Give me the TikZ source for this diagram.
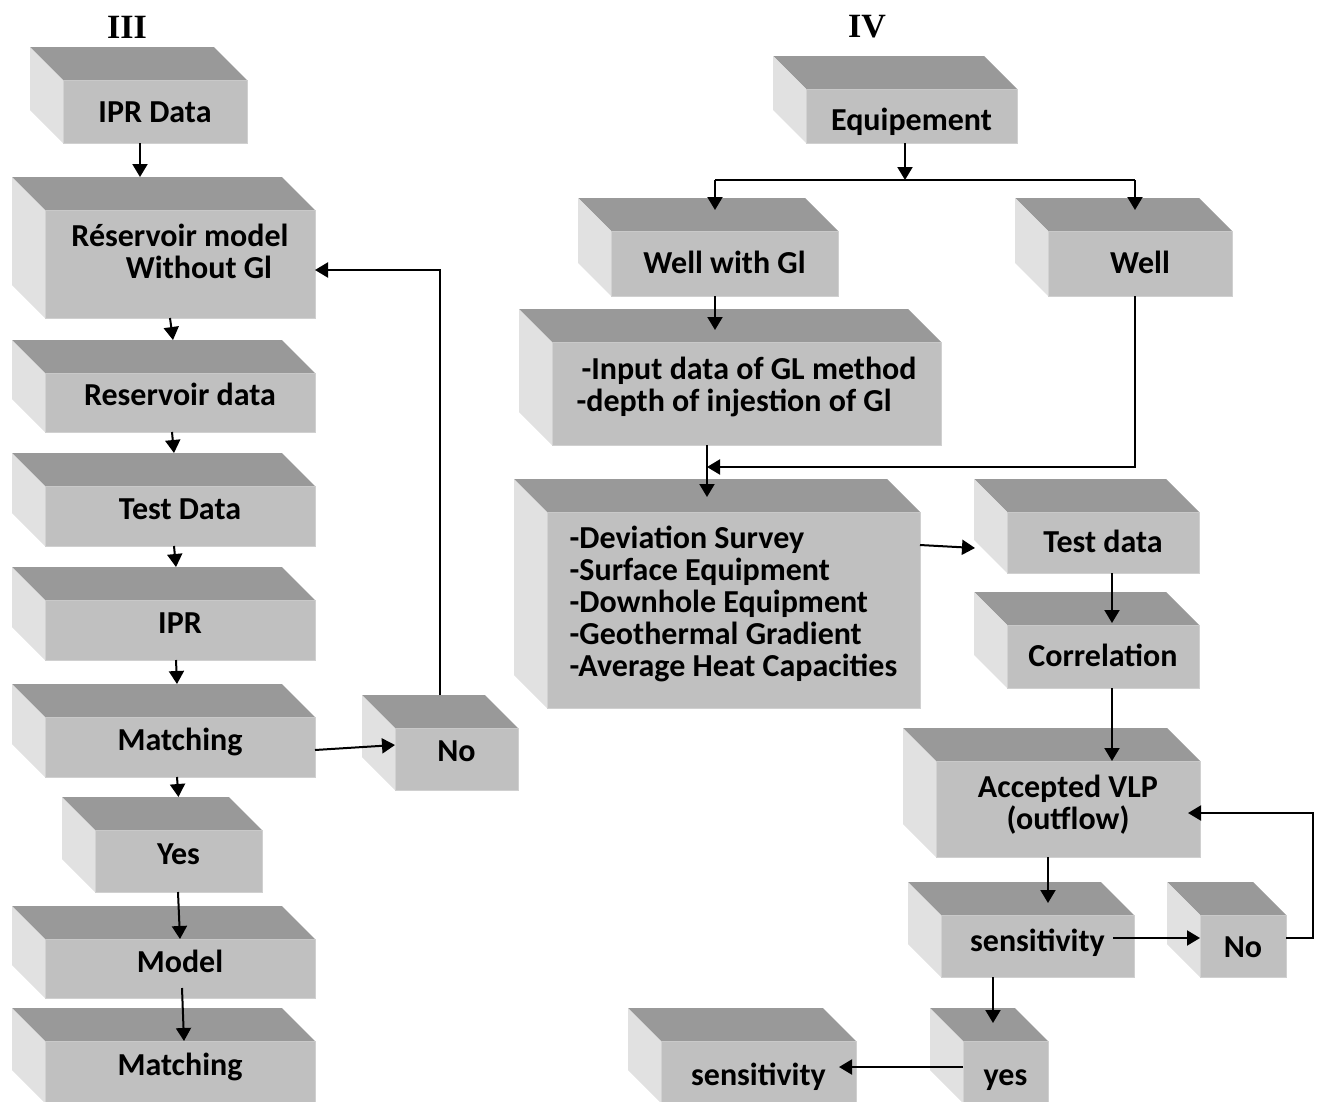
\documentclass[tikz,border=0pt]{standalone}
\usepackage{fontspec}
\setmainfont{Carlito}
\newfontfamily\headfont{Liberation Serif}
\usetikzlibrary{arrows.meta}

\definecolor{frontgray}{HTML}{C0C0C0}
\definecolor{topgray}{HTML}{999999}
\definecolor{sidegray}{HTML}{E1E1E1}
\definecolor{edgegray}{HTML}{D0D0D0}

\begin{document}
\begin{tikzpicture}[
    x=1pt, y=-1pt,
    font=\bfseries\fontsize{32}{32}\selectfont,
    box/.style={fill=frontgray, draw=edgegray, line width=1pt, inner sep=0pt, outer sep=0pt},
    blk/.style={box, text height=#1, text depth=0pt},
    blk/.default=6pt,
    dims/.style 2 args={minimum width=#1pt, minimum height=#2pt},
    topface/.style={fill=topgray},
    sideface/.style={fill=sidegray},
    arrow/.style={line width=2pt, -{Triangle[length=13pt,width=15pt]}},
    link/.style={line width=2pt},
    heading/.style={font=\headfont\bfseries\fontsize{34}{40}\selectfont}
  ]

  \path[use as bounding box] (0,0) rectangle (1320,1101);
  \clip (0,0) rectangle (1320,1101);

  % Headings
  \node[heading] (h3) at (127,27) {III};
  \node[heading] (h4) at (867,27) {IV};

  % Column III
  \node[blk=21pt, dims={184}{63}] (iprdata) at (155,111.5) {IPR Data};
  \node[blk=28pt, align=center, dims={270}{108}] (resmodel) at (180,264)
    {Réservoir model\\\hspace*{38pt}Without Gl};
  \node[blk=5pt, dims={270}{59}]  (resdata)  at (180,402.5) {Reservoir data};
  \node[blk, dims={270}{60}]      (testdata) at (180,516) {Test Data};
  \node[blk, dims={270}{60}]      (ipr)      at (180,630) {IPR};
  \node[blk, dims={270}{60}]      (match)    at (180,747) {Matching};
  \node[blk=4pt, dims={123}{62}]  (noleft)   at (456.5,759) {No};
  \node[blk, dims={167}{62}]      (yesleft)  at (178.5,861) {Yes};
  \node[blk=7pt, dims={270}{59}]  (model)    at (180,968.5) {Model};
  \node[blk, dims={270}{62}]      (matchend) at (180,1072) {Matching};

  % Column IV
  \node[blk=28pt, dims={211}{54}] (equip)    at (911.5,116) {Equipement};
  \node[blk=19pt, dims={227}{65}] (wellgl)   at (724.5,263.5) {Well with Gl};
  \node[blk=19pt, dims={184}{65}] (well)     at (1140,263.5) {Well};
  \node[blk=35pt, align=left, dims={389}{103}] (input) at (746.5,393.5)
    {\hspace*{5pt}-Input data of GL method\\-depth of injestion of Gl};
  \node[blk=132pt, align=left, dims={373}{196}] (devi) at (733.5,610)
    {-Deviation Survey\\-Surface Equipment\\-Downhole Equipment\\-Geothermal Gradient\\-Average Heat Capacities};
  \node[blk=20pt, dims={192}{61}] (testd)    at (1103,542.5) {Test data};
  \node[blk=20pt, dims={192}{63}] (corr)     at (1103,656.5) {Correlation};
  \node[blk=40pt, align=center, dims={264}{96}] (vlp) at (1068,809) {Accepted VLP\\(outflow)};
  \node[blk=10pt, dims={193}{62}] (sens)     at (1037.5,946) {sensitivity};
  \node[blk=22pt, dims={86}{62}]  (noright)  at (1243,946) {No};
  \node[blk=26pt, dims={85}{62}]  (yesright) at (1005.5,1072) {yes};
  \node[blk=26pt, dims={195}{62}] (sensend)  at (758.5,1072) {sensitivity};

  % 3D faces
  \foreach \b in {iprdata,resmodel,resdata,testdata,ipr,match,noleft,yesleft,model,matchend,
                  equip,wellgl,well,input,devi,testd,corr,vlp,sens,noright,yesright,sensend}{
    \fill[topface] (\b.north west) -- ++(-33,-33) -- ([shift={(-33,-33)}]\b.north east) -- (\b.north east) -- cycle;
    \fill[sideface] (\b.north west) -- ++(-33,-33) -- ([shift={(-33,-33)}]\b.south west) -- (\b.south west) -- cycle;
  }

  % Arrows, column III
  \draw[arrow] ([xshift=-15pt]iprdata.south) -- ([xshift=-40pt,yshift=33pt]resmodel.north);
  \draw[arrow] ([xshift=-10pt]resmodel.south) -- ([xshift=-7pt,yshift=33pt]resdata.north);
  \draw[arrow] ([xshift=-8pt]resdata.south) -- ([xshift=-6pt,yshift=33pt]testdata.north);
  \draw[arrow] ([xshift=-6pt]testdata.south) -- ([xshift=-4pt,yshift=33pt]ipr.north);
  \draw[arrow] ([xshift=-4pt]ipr.south) -- ([xshift=-3pt,yshift=33pt]match.north);
  \draw[arrow] ([xshift=-3pt]match.south) -- ([yshift=33pt]yesleft.north);
  \draw[arrow] ([xshift=-0.5pt]yesleft.south) -- (model.north);
  \draw[arrow] ([xshift=2pt,yshift=10pt]model.south) -- ([xshift=4pt]matchend.north);
  \draw[arrow] ([yshift=-3pt]match.east) -- ([yshift=14pt]noleft.west);
  \draw[arrow] ([xshift=-16.5pt,yshift=33pt]noleft.north) |- ([yshift=-6pt]resmodel.east);

  % Arrows, column IV
  \coordinate (split) at (905,180);
  \draw[arrow] ([xshift=-6.5pt]equip.south) -- (split);
  \draw[link] ([xshift=-9.5pt]wellgl.north |- split) -- ([xshift=-5pt]well.north |- split);
  \draw[arrow] ([xshift=-9.5pt]wellgl.north |- split) -- ([xshift=-9.5pt,yshift=21pt]wellgl.north);
  \draw[arrow] ([xshift=-5pt]well.north |- split) -- ([xshift=-5pt,yshift=21pt]well.north);
  \draw[arrow] ([xshift=-9.5pt]wellgl.south) -- ([xshift=-31.5pt,yshift=12pt]input.north);
  \draw[arrow] ([xshift=-39.5pt]input.south) -- ([xshift=-26.5pt,yshift=15pt]devi.north);
  \draw[arrow] ([xshift=-5pt]well.south) |- ([xshift=-39.5pt,yshift=-22pt]input.south);
  \draw[arrow] ([yshift=65pt]devi.east) -- ([xshift=-32pt,yshift=-5.5pt]testd.west);
  \draw[arrow] ([xshift=9pt]testd.south) -- ([xshift=9pt,yshift=2pt]corr.north);
  \draw[arrow] ([xshift=9pt]corr.south) -- ([xshift=44pt]vlp.north);
  \draw[arrow] ([xshift=-20pt]vlp.south) -- ([xshift=10.5pt,yshift=12pt]sens.north);
  \draw[arrow] ([xshift=-21pt,yshift=8pt]sens.east) -- ([yshift=8pt]noright.west);
  \draw[arrow] ([yshift=8pt]noright.east) -- ++(27,0) |- ([xshift=-12pt,yshift=-4pt]vlp.east);
  \draw[arrow] ([xshift=-44.5pt]sens.south) -- ([xshift=-12.5pt,yshift=18pt]yesright.north);
  \draw[arrow] ([yshift=5pt]yesright.west) -- ([xshift=-17pt,yshift=5pt]sensend.east);

\end{tikzpicture}
\end{document}
